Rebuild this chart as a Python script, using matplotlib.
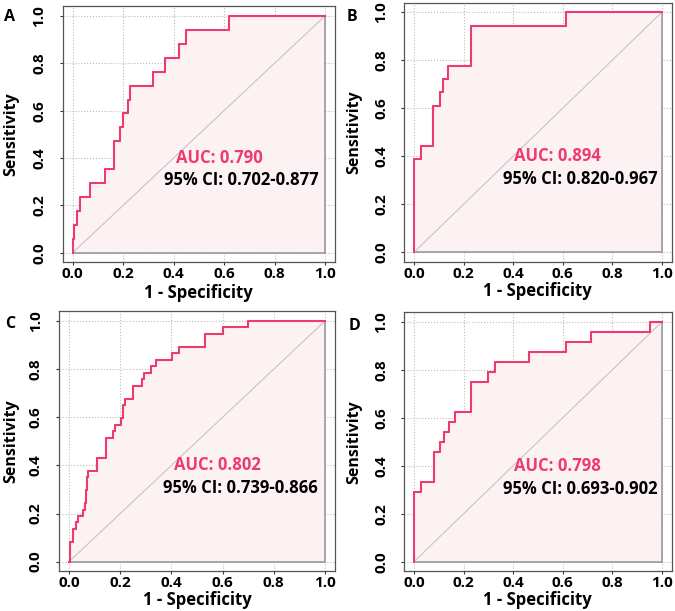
import matplotlib
matplotlib.use("Agg")
import matplotlib.pyplot as plt
import numpy as np

plt.rcParams["font.family"] = ["Open Sans", "DejaVu Sans"]
plt.rcParams["font.weight"] = "bold"

# ROC corner points (1 - specificity, sensitivity)
fpr_a = [0, 0, 0.004, 0.018, 0.030, 0.070, 0.127, 0.165, 0.188, 0.198, 0.218,
         0.227, 0.317, 0.366, 0.423, 0.450, 0.620, 1.0]
tpr_a = [0, 0.059, 0.118, 0.176, 0.235, 0.294, 0.353, 0.471, 0.529, 0.588, 0.647,
         0.706, 0.765, 0.824, 0.882, 0.941, 1.0, 1.0]

fpr_b = [0, 0, 0.030, 0.077, 0.105, 0.116, 0.137, 0.230, 0.614, 1.0]
tpr_b = [0, 0.389, 0.444, 0.611, 0.667, 0.722, 0.778, 0.944, 1.0, 1.0]

fpr_c = [0, 0.002, 0.005, 0.017, 0.027, 0.036, 0.053, 0.0625, 0.066, 0.069, 0.073,
         0.108, 0.145, 0.173, 0.178, 0.202, 0.210, 0.219, 0.249, 0.285, 0.292,
         0.319, 0.340, 0.402, 0.431, 0.530, 0.603, 0.700, 1.0]
tpr_c = [0, 0.041, 0.083, 0.136, 0.163, 0.190, 0.216, 0.243, 0.297, 0.351, 0.378,
         0.432, 0.514, 0.541, 0.568, 0.595, 0.649, 0.676, 0.730, 0.757, 0.784,
         0.811, 0.838, 0.865, 0.892, 0.946, 0.973, 1.0, 1.0]

fpr_d = [0, 0, 0.028, 0.079, 0.106, 0.121, 0.141, 0.164, 0.230, 0.300, 0.328,
         0.466, 0.612, 0.715, 0.953, 1.0]
tpr_d = [0, 0.292, 0.333, 0.458, 0.500, 0.542, 0.583, 0.625, 0.750, 0.792, 0.833,
         0.875, 0.917, 0.958, 1.0, 1.0]

panel_labels = ["A", "B", "C", "D"]
auc_texts = ["AUC: 0.790", "AUC: 0.894", "AUC: 0.802", "AUC: 0.798"]
ci_texts = ["95% CI: 0.702-0.877", "95% CI: 0.820-0.967",
            "95% CI: 0.739-0.866", "95% CI: 0.693-0.902"]
curves = [(fpr_a, tpr_a), (fpr_b, tpr_b), (fpr_c, tpr_c), (fpr_d, tpr_d)]
ticks = [0.0, 0.2, 0.4, 0.6, 0.8, 1.0]

line_col = "#ee3a6d"
fill_col = "#fdf2f3"

rects = [
    [0.0927, 0.5709, 0.4037, 0.4185],
    [0.5987, 0.5714, 0.3963, 0.4242],
    [0.0871, 0.0650, 0.4095, 0.4254],
    [0.5987, 0.0650, 0.3963, 0.4237],
]
# axis label anchors in axes fraction
xlabel_y = [-0.140, -0.132, -0.130, -0.131]
ylabel_x = [-0.160, -0.157, -0.144, -0.157]
letter_pos = [(0.006, 0.985), (0.514, 0.985), (0.007, 0.483), (0.516, 0.480)]

fig = plt.figure(figsize=(6.75, 6.11), dpi=100)

for i, (fpr, tpr) in enumerate(curves):
    ax = fig.add_axes(rects[i])
    # step polygon for the shaded area
    xs, ys = [], []
    for j in range(len(fpr)):
        if j > 0:
            xs.append(fpr[j])
            ys.append(tpr[j - 1])
        xs.append(fpr[j])
        ys.append(tpr[j])
    ax.fill(xs + [1.0], ys + [0.0], facecolor=fill_col, edgecolor="#999999",
            linewidth=1.2, zorder=1)
    ax.plot([0, 1], [0, 1], color="#c4c4c4", linewidth=0.8, zorder=2)
    ax.plot(fpr, tpr, drawstyle="steps-post", color=line_col, linewidth=1.5, zorder=3)

    ax.set_xlim(-0.04, 1.04)
    ax.set_ylim(-0.04, 1.04)
    ax.set_xticks(ticks)
    ax.set_yticks(ticks)
    ax.set_xticklabels([f"{t:.1f}" for t in ticks])
    ax.set_yticklabels([f"{t:.1f}" for t in ticks], rotation=90, va="center")
    ax.tick_params(labelsize=11, length=2.5, width=0.8, colors="#333333",
                   labelcolor="black")
    ax.tick_params(axis="x", pad=1)
    ax.tick_params(axis="y", pad=9)
    ax.grid(True, linestyle=":", color="#bbbbbb", linewidth=0.8)
    ax.set_axisbelow(True)
    for sp in ax.spines.values():
        sp.set_color("#555555")
        sp.set_linewidth(0.9)
    ax.set_xlabel("1 - Specificity", fontsize=12, fontweight="bold", va="baseline")
    ax.set_ylabel("Sensitivity", fontsize=11.5, fontweight="bold")
    ax.xaxis.set_label_coords(0.5, xlabel_y[i])
    ax.yaxis.set_label_coords(ylabel_x[i], 0.5)

    ax.text(0.58, 0.40, auc_texts[i], color=line_col, fontsize=12,
            fontweight="bold", ha="center", va="center", zorder=4)
    ax.text(0.67, 0.305, ci_texts[i], color="black", fontsize=12,
            fontweight="bold", ha="center", va="center", zorder=4)

    fig.text(letter_pos[i][0], letter_pos[i][1], panel_labels[i], fontsize=11.5,
             fontweight="bold", ha="left", va="top")

fig.savefig("out.png", dpi=100)
